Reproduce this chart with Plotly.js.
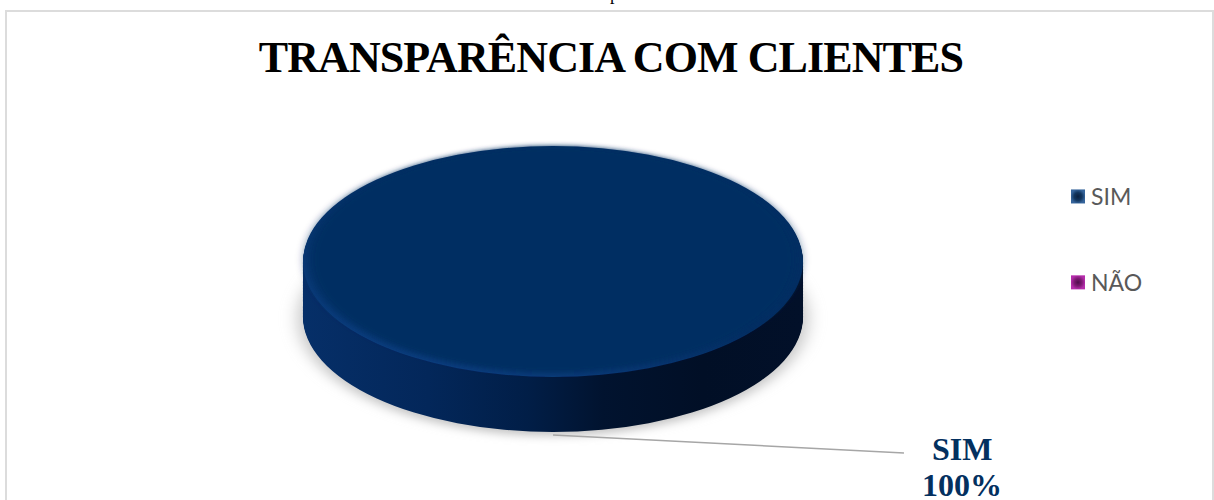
<!DOCTYPE html>
<html lang="pt">
<head>
<meta charset="utf-8">
<title>Transparência com clientes</title>
<script src="https://cdn.plot.ly/plotly-3.0.1.min.js"></script>
<style>
  html, body { margin: 0; padding: 0; background: #fff; overflow: hidden; }
  #chart { width: 1214px; height: 500px; }
</style>
</head>
<body>
<div id="chart"></div>
<script>
// Survey result
const chartTitle = 'TRANSPARÊNCIA COM CLIENTES';
const categories = ['SIM', 'NÃO'];
const percentages = [100, 0];

// Disc geometry in page pixels
const W = 1214, H = 500;
const DISC_CX = 553, DISC_RX = 250, DISC_RY = 115.5, TOP_CY = 261.5, DEPTH = 55;

// Pie domain giving a circle of radius r centred at (DISC_CX, cy)
function domainAt(cy, r) {
  return { x: [0, 2 * DISC_CX / W], y: [1 - (cy + r) / H, 1 - (cy - r) / H] };
}

function discLayer(role, cy, r, colors) {
  return {
    type: 'pie', sort: false, direction: 'clockwise', hole: 0,
    labels: categories, values: percentages,
    marker: { colors: colors, line: { width: 0 } },
    textinfo: 'none', hoverinfo: 'none', showlegend: role === 'face',
    domain: domainAt(cy, r), meta: role
  };
}

const traces = [];
traces.push(discLayer('shadow', TOP_CY + DEPTH + 2, DISC_RY + 2, ['#c4c4c4', '#c4c4c4']));
for (let d = DEPTH; d >= 1; d--) {
  traces.push(discLayer('wall', TOP_CY + d, DISC_RY, ['#011c44', '#011c44']));
}
traces.push(discLayer('rim', TOP_CY, DISC_RY, ['#0a3a78', '#0a3a78']));
traces.push(discLayer('face', TOP_CY - 2, DISC_RY - 2, ['#032d62', '#7d1a73']));

const valueLabelFont = { family: '"Liberation Serif", serif', size: 32, color: '#03305f' };

const layout = {
  width: W, height: H,
  margin: { l: 0, r: 0, t: 0, b: 0 },
  paper_bgcolor: '#fff',
  showlegend: true,
  legend: {
    x: 1058 / W, xanchor: 'left', y: 1 - 175 / H, yanchor: 'top',
    font: { family: 'Lato, sans-serif', size: 23, color: '#595959' },
    itemwidth: 30, bgcolor: 'rgba(0,0,0,0)',
    itemclick: false, itemdoubleclick: false
  },
  shapes: [
    { type: 'rect', xref: 'paper', yref: 'paper', x0: 6 / W, x1: 1213 / W, y0: -0.02, y1: 1 - 11 / H,
      line: { color: '#dcdcdc', width: 2 } },
    { type: 'line', xref: 'paper', yref: 'paper', x0: 553 / W, y0: 1 - 435 / H, x1: 904 / W, y1: 1 - 453 / H,
      line: { color: '#a6a6a6', width: 1.5 } }
  ],
  annotations: [
    { text: '<b>' + chartTitle + '</b>', xref: 'paper', yref: 'paper', x: 611 / W, y: 1 - 58 / H, xanchor: 'center', yanchor: 'middle',
      showarrow: false, font: { family: '"Liberation Serif", serif', size: 44, color: '#000' } },
    { text: '<b>' + categories[0] + '</b>', xref: 'paper', yref: 'paper', x: 962 / W, y: 1 - 449 / H,
      xanchor: 'center', yanchor: 'middle', showarrow: false, font: valueLabelFont },
    { text: '<b>' + percentages[0] + '%</b>', xref: 'paper', yref: 'paper', x: 962 / W, y: 1 - 485 / H,
      xanchor: 'center', yanchor: 'middle', showarrow: false, font: valueLabelFont },
    { text: 'p', xref: 'paper', yref: 'paper', x: 614 / W, y: 1 + 18 / H, xanchor: 'center', yanchor: 'top',
      showarrow: false, font: { family: '"Liberation Serif", serif', size: 18, color: '#000' } }
  ]
};

const NS = 'http://www.w3.org/2000/svg';

function addGradient(defs, kind, id, stops, vector) {
  const g = document.createElementNS(NS, kind);
  g.setAttribute('id', id);
  Object.entries(vector || {}).forEach(([k, v]) => g.setAttribute(k, v));
  stops.forEach(([off, col]) => {
    const s = document.createElementNS(NS, 'stop');
    s.setAttribute('offset', off);
    s.setAttribute('stop-color', col);
    g.appendChild(s);
  });
  defs.appendChild(g);
}

function addBlur(defs, id, dev) {
  const f = document.createElementNS(NS, 'filter');
  f.setAttribute('id', id);
  ['x', 'y'].forEach(a => f.setAttribute(a, '-10%'));
  ['width', 'height'].forEach(a => f.setAttribute(a, '120%'));
  const b = document.createElementNS(NS, 'feGaussianBlur');
  b.setAttribute('stdDeviation', dev);
  f.appendChild(b);
  defs.appendChild(f);
}

Plotly.newPlot('chart', traces, layout, { displayModeBar: false }).then(gd => {
  const svg = gd.querySelector('.main-svg');
  const defs = document.createElementNS(NS, 'defs');
  svg.insertBefore(defs, svg.firstChild);

  addGradient(defs, 'linearGradient', 'wallFill', [
    ['0', '#062f68'], ['0.25', '#03275a'], ['0.45', '#011e47'],
    ['0.6', '#01132f'], ['0.8', '#010f26'], ['1', '#021029']
  ]);
  // Light catches the lower-left edge of the top face only
  addGradient(defs, 'linearGradient', 'rimFill', [
    ['0', '#032d62'], ['0.45', '#032d62'], ['0.75', '#0a3a78'], ['1', '#0b4085']
  ], { x1: '1', y1: '0', x2: '0', y2: '1' });
  addGradient(defs, 'radialGradient', 'keySim', [['0', '#0b2140'], ['0.55', '#12365f'], ['1', '#35649b']]);
  addGradient(defs, 'radialGradient', 'keyNao', [['0', '#4f0c4b'], ['0.55', '#7d1a73'], ['1', '#b52dab']]);
  addBlur(defs, 'softEdge', 2.5);
  addBlur(defs, 'softShadow', 4);

  // Flatten the circular pies into the tilted disc seen in perspective
  const sx = DISC_RX / DISC_RY;
  gd.querySelectorAll('.pielayer .trace').forEach((g, i) => {
    const role = traces[i].meta;
    g.setAttribute('transform', `translate(${DISC_CX},0) scale(${sx},1) translate(${-DISC_CX},0)`);
    const paths = g.querySelectorAll('path.surface');
    if (role === 'wall') paths.forEach(p => { p.style.fill = 'url(#wallFill)'; });
    if (role === 'rim') paths.forEach(p => { p.style.fill = 'url(#rimFill)'; });
    if (role === 'face') g.setAttribute('filter', 'url(#softEdge)');
    if (role === 'shadow') g.setAttribute('filter', 'url(#softShadow)');
  });

  // Legend: spread the two entries apart, with keys close to their labels
  gd.querySelectorAll('.legend .scrollbox').forEach(b => b.removeAttribute('clip-path'));
  gd.querySelectorAll('.legend .traces').forEach((t, i) => {
    const m = /translate\(([-\d.]+),\s*([-\d.]+)\)/.exec(t.getAttribute('transform') || '');
    if (i === 1 && m) t.setAttribute('transform', `translate(${m[1]},${+m[2] + 53})`);
    const txt = t.querySelector('.legendtext');
    txt.setAttribute('x', 33);
    const key = i === 0 ? 'keySim' : 'keyNao';
    t.querySelectorAll('.legendpie').forEach(p => {
      p.style.fill = `url(#${key})`;
      p.setAttribute('transform', (p.getAttribute('transform') || '') + ' scale(1.17)');
    });
  });

  // Tighten the title to its printed width
  const title = gd.querySelector('.annotation-text');
  if (title) title.style.letterSpacing = '-0.9px';
});
</script>
</body>
</html>
